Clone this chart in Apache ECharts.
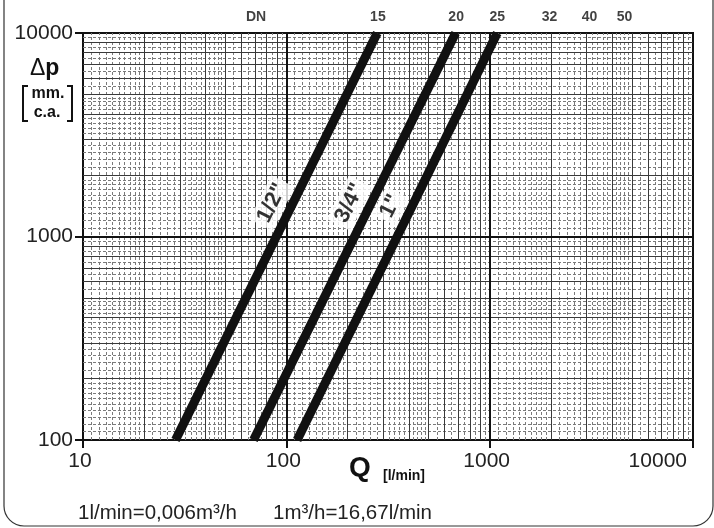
<!DOCTYPE html>
<html>
<head>
<meta charset="utf-8">
<script src="https://cdn.jsdelivr.net/npm/echarts@6/dist/echarts.min.js"></script>
<style>html,body{margin:0;padding:0;background:#fff}#c{width:714px;height:528px}</style>
</head>
<body>
<div id="c"></div>
<script>
// ---- data ----
const xTicks = [10, 100, 1000, 10000];
const yTicks = [100, 1000, 10000];
const line12 = [[28.5, 100], [280, 10000]];
const line34 = [[69, 100], [680, 10000]];
const line1 = [[113, 100], [1090, 10000]];
const pipeLabels = ['1/2"', '3/4"', '1"'];
const pipeLabelQ = [85, 205, 326];
const pipeLabelP = [1460, 1460, 1410];
const dnNames = ['DN', '15', '20', '25', '32', '40', '50'];
const dnQ = [71, 282, 684, 1090, 1970, 3100, 4600];

// ---- grid line values (log paper) ----
function paperLines(decades) {
  const solid = [], dashed = [];
  decades.forEach(d => {
    for (let m = 2; m <= 9; m++) solid.push(m * d);
    const add = (a, b, s) => { for (let v = a + s; v < b - 1e-9; v += s) { if (Math.abs(v - Math.round(v)) > 1e-6) dashed.push(+(v * d).toFixed(6)); } };
    add(1, 2, 0.1); add(2, 5, 0.2); add(5, 10, 0.5);
  });
  return { solid, dashed };
}
const gx = paperLines([10, 100, 1000]);
const gy = paperLines([100, 1000]);

const solidStyle = { color: '#3a3a3a', width: 1, type: 'solid' };
const dashStyle = { color: '#7a7a7a', width: 1, type: [3, 2] };
const majorStyle = { color: '#111', width: 2, type: 'solid' };
const mlData = [];
gx.dashed.forEach(v => mlData.push({ xAxis: v, lineStyle: dashStyle }));
gy.dashed.forEach(v => mlData.push({ yAxis: v, lineStyle: dashStyle }));
gx.solid.forEach(v => mlData.push({ xAxis: v, lineStyle: solidStyle }));
gy.solid.forEach(v => mlData.push({ yAxis: v, lineStyle: solidStyle }));
[100, 1000].forEach(v => mlData.push({ xAxis: v, lineStyle: majorStyle }));
[1000].forEach(v => mlData.push({ yAxis: v, lineStyle: majorStyle }));

const font = '"Liberation Sans", Arial, sans-serif';
const chart = echarts.init(document.getElementById('c'));
const thick = { color: '#111', width: 9, cap: 'butt' };
const plain = v => String(Math.round(v));

chart.setOption({
  animation: false,
  backgroundColor: '#fff',
  grid: { left: 83, right: 21, top: 33, bottom: 88, containLabel: false, outerBoundsMode: 'none', show: true, borderColor: '#111', borderWidth: 2, backgroundColor: 'transparent' },
  xAxis: {
    type: 'log', logBase: 10, min: 10, max: 10000,
    axisLine: { show: true, lineStyle: { color: '#111', width: 2 } },
    axisTick: { show: true, length: 8, inside: false, lineStyle: { color: '#111', width: 2 } },
    axisLabel: { fontFamily: font, fontSize: 21, color: '#222', margin: 11, formatter: plain, hideOverlap: false, alignMaxLabel: 'right', padding: [0, 6, 0, 0] },
    splitLine: { show: false }, minorTick: { show: false }
  },
  yAxis: {
    type: 'log', logBase: 10, min: 100, max: 10000,
    axisLine: { show: true, lineStyle: { color: '#111', width: 2 } },
    axisTick: { show: true, length: 8, inside: false, lineStyle: { color: '#111', width: 2 } },
    axisLabel: { fontFamily: font, fontSize: 21, color: '#222', margin: 10, formatter: plain },
    splitLine: { show: false }
  },
  series: [
    {
      type: 'line', data: [], z: 1, silent: true,
      markLine: { silent: true, symbol: ['none', 'none'], label: { show: false }, animation: false, data: mlData }
    },
    { type: 'line', name: '1/2"', data: line12, showSymbol: false, lineStyle: thick, z: 5, silent: true },
    { type: 'line', name: '3/4"', data: line34, showSymbol: false, lineStyle: thick, z: 5, silent: true },
    { type: 'line', name: '1"', data: line1, showSymbol: false, lineStyle: thick, z: 5, silent: true },
    {
      type: 'scatter', z: 8, zlevel: 1, symbolSize: 1, itemStyle: { color: 'rgba(0,0,0,0)' }, silent: true,
      data: pipeLabels.map((n, i) => ({ name: n, value: [pipeLabelQ[i], pipeLabelP[i]] })),
      label: { show: true, position: 'inside', formatter: '{b}', rotate: 63.4, fontFamily: font, fontWeight: 'bold', fontSize: 22, color: '#000', backgroundColor: '#ffffff', padding: [3, 4, 1, 4] }
    },
    {
      type: 'scatter', z: 6, symbolSize: 0, silent: true, clip: false,
      data: dnNames.map((n, i) => ({ name: n, value: [dnQ[i], 10000] })),
      label: { show: true, position: 'top', distance: 9, formatter: '{b}', fontFamily: font, fontWeight: 'bold', fontSize: 14, color: '#111' }
    }
  ],
  graphic: [
    { type: 'rect', shape: { x: 4, y: -40, width: 709, height: 566, r: 20 }, style: { fill: 'none', stroke: '#333', lineWidth: 1.2 }, silent: true },
    { type: 'text', left: 30, top: 57, style: { text: '{d|Δ}{p|p}', rich: { d: { fontFamily: font, fontSize: 23, fill: '#111' }, p: { fontFamily: font, fontSize: 23, fontWeight: 'bold', fill: '#111' } } } },
    { type: 'polyline', shape: { points: [[28, 86], [23, 86], [23, 121], [28, 121]] }, style: { stroke: '#111', lineWidth: 2, fill: 'none' } },
    { type: 'polyline', shape: { points: [[67, 86], [72, 86], [72, 121], [67, 121]] }, style: { stroke: '#111', lineWidth: 2, fill: 'none' } },
    { type: 'text', x: 48, y: 94, style: { text: 'mm.', fontFamily: font, fontSize: 16, fontWeight: 'bold', fill: '#111', align: 'center', verticalAlign: 'middle' } },
    { type: 'text', x: 47, y: 113, style: { text: 'c.a.', fontFamily: font, fontSize: 16, fontWeight: 'bold', fill: '#111', align: 'center', verticalAlign: 'middle' } },
    { type: 'text', x: 349, y: 468, style: { text: 'Q', fontFamily: font, fontSize: 28, fontWeight: 'bold', fill: '#111', verticalAlign: 'middle' } },
    { type: 'text', x: 383, y: 476, style: { text: '[l/min]', fontFamily: font, fontSize: 14, fontWeight: 'bold', fill: '#111', verticalAlign: 'middle' } },
    { type: 'text', x: 78, y: 513, style: { text: '1l/min=0,006m³/h', fontFamily: font, fontSize: 20.5, fill: '#222', verticalAlign: 'middle' } },
    { type: 'text', x: 273, y: 513, style: { text: '1m³/h=16,67l/min', fontFamily: font, fontSize: 20.5, fill: '#222', verticalAlign: 'middle' } }
  ]
});
</script>
</body>
</html>
